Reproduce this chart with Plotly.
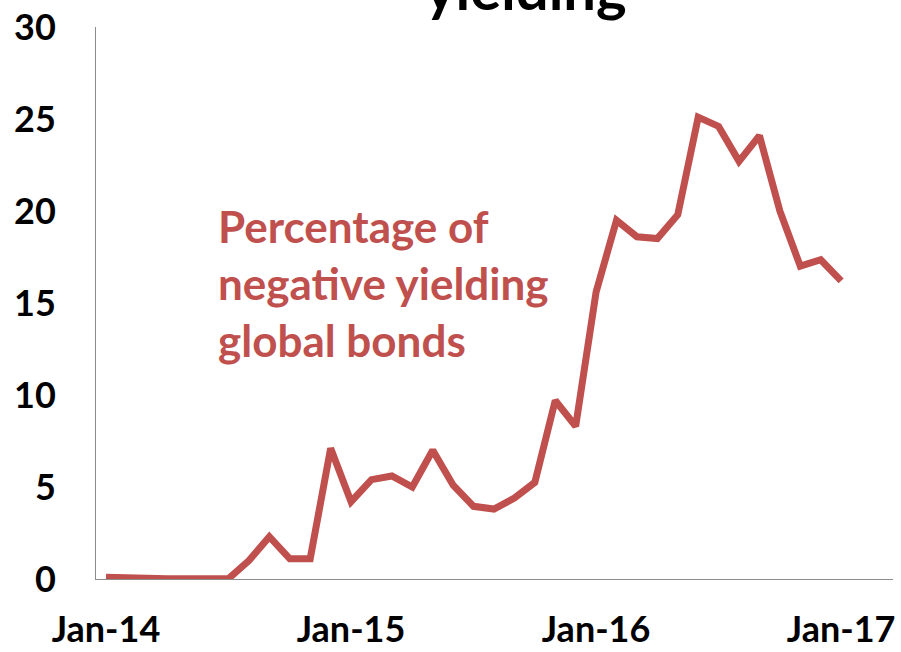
import plotly.graph_objects as go

months = [
    "Jan-14", "Feb-14", "Mar-14", "Apr-14", "May-14", "Jun-14", "Jul-14", "Aug-14", "Sep-14", "Oct-14", "Nov-14", "Dec-14",
    "Jan-15", "Feb-15", "Mar-15", "Apr-15", "May-15", "Jun-15", "Jul-15", "Aug-15", "Sep-15", "Oct-15", "Nov-15", "Dec-15",
    "Jan-16", "Feb-16", "Mar-16", "Apr-16", "May-16", "Jun-16", "Jul-16", "Aug-16", "Sep-16", "Oct-16", "Nov-16", "Dec-16",
    "Jan-17",
]
neg_yield_pct = [
    0.1, 0.05, 0.02, 0.02, 0.02, 0.02, 0.02, 1.0, 2.3, 1.1, 1.1, 7.1,
    4.2, 5.4, 5.6, 5.0, 7.0, 5.1, 3.95, 3.8, 4.4, 5.25, 9.7, 8.3,
    15.6, 19.5, 18.6, 18.5, 19.8, 25.1, 24.6, 22.7, 24.1, 20.0, 17.0, 17.35,
    16.2,
]
x_tick_labels = ["Jan-14", "Jan-15", "Jan-16", "Jan-17"]
y_ticks = [0, 5, 10, 15, 20, 25, 30]

RED = "#C0504D"
FONT = "Lato"

fig = go.Figure()
fig.add_trace(go.Scatter(
    x=months, y=neg_yield_pct, mode="lines",
    line=dict(color=RED, width=7),
    hoverinfo="skip", showlegend=False,
))

fig.update_layout(
    width=901, height=652,
    margin=dict(l=96, r=8, t=27, b=73),
    paper_bgcolor="white", plot_bgcolor="white",
    showlegend=False,
    font=dict(family=FONT, color="black"),
    xaxis=dict(
        type="category", automargin=False,
        categoryorder="array", categoryarray=months,
        range=[-0.49, 38.54],
        tickmode="array", tickvals=x_tick_labels, ticktext=x_tick_labels,
        showgrid=False, zeroline=False,
        showline=True, linecolor="#8c8c8c", linewidth=1,
        ticks="", ticklabelstandoff=19,
        tickfont=dict(family=FONT, size=36, weight="bold", color="black"),
    ),
    yaxis=dict(
        range=[0, 30], automargin=False,
        tickmode="array", tickvals=y_ticks,
        showgrid=False, zeroline=False,
        showline=True, linecolor="#8c8c8c", linewidth=1,
        ticks="", ticklabelstandoff=32,
        tickfont=dict(family=FONT, size=36, weight="bold", color="black"),
    ),
)

fig.add_annotation(
    xref="paper", yref="paper",
    x=(216 - 96) / 797, y=(579 - 198) / 552,
    xanchor="left", yanchor="top", align="left",
    text="Percentage of<br>negative yielding<br>global bonds",
    showarrow=False,
    font=dict(family=FONT, size=44, weight="bold", color=RED),
)

fig.add_annotation(
    xref="paper", yref="paper",
    x=(526 - 96) / 797, y=(579 - 24) / 552,
    xanchor="center", yanchor="bottom",
    text="yielding",
    showarrow=False,
    font=dict(family=FONT, size=58, weight="bold", color="black"),
)

fig.write_html("out.html")
